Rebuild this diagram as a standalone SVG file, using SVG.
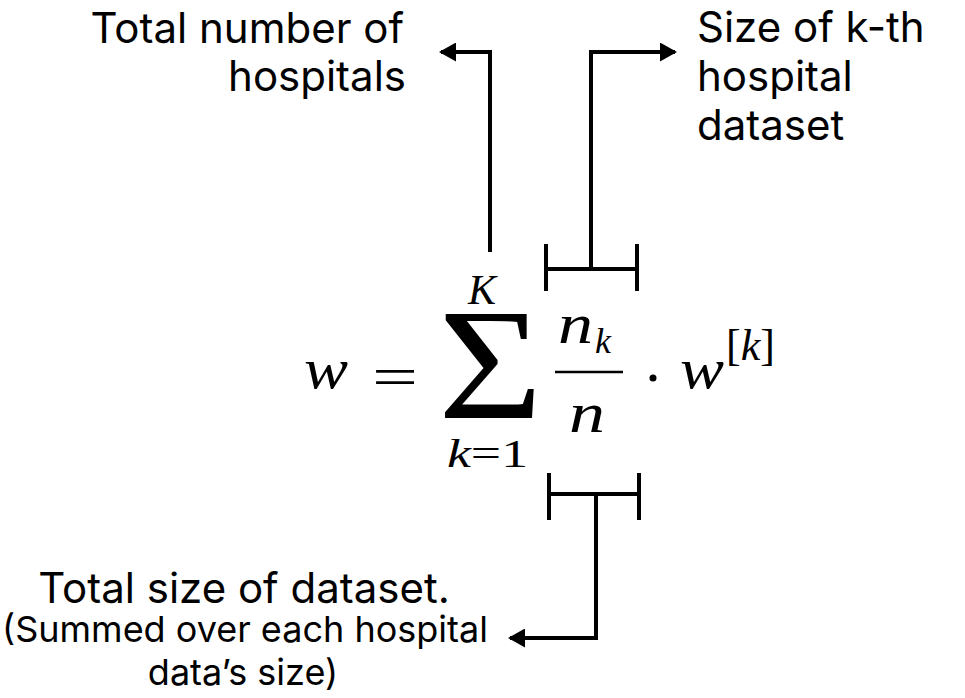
<svg xmlns="http://www.w3.org/2000/svg" width="965" height="698" viewBox="0 0 965 698">
<style>
.lbl{font-family:Inter,"Liberation Sans",sans-serif;fill:#000}
.m{font-family:"Liberation Serif","DejaVu Serif",serif;font-style:italic;fill:#000}
.r{font-family:"Liberation Serif","DejaVu Serif",serif;font-style:normal;fill:#000}
.ln{fill:none;stroke:#000;stroke-width:4}
</style>
<defs>
<marker id="ah" markerWidth="17" markerHeight="19" viewBox="0 0 17 19" refX="15" refY="9.5" orient="auto" markerUnits="userSpaceOnUse">
<path d="M0,0 L17,9.5 L0,19 z" fill="#000"/>
</marker>
</defs>
<rect width="965" height="698" fill="#fff"/>
<g id="label-total-hospitals">
<text class="lbl" font-size="42" text-anchor="end" x="404" y="43">Total number of</text>
<text class="lbl" font-size="42" text-anchor="end" x="406" y="91">hospitals</text>
</g>
<g id="label-kth-size">
<text class="lbl" font-size="42" x="697" y="42">Size of k-th</text>
<text class="lbl" font-size="42" x="697" y="91">hospital</text>
<text class="lbl" font-size="42" x="697" y="140">dataset</text>
</g>
<g id="label-total-size">
<text class="lbl" font-size="42" text-anchor="middle" x="244" y="603">Total size of dataset.</text>
<text class="lbl" font-size="36" text-anchor="middle" x="245" y="642">(Summed over each hospital</text>
<text class="lbl" font-size="36" text-anchor="middle" x="243" y="685">data’s size)</text>
</g>
<g id="formula">
<text class="m" font-size="58" x="304" y="388" textLength="44" lengthAdjust="spacingAndGlyphs">w</text>
<text class="r" font-size="58" x="372" y="396" textLength="46" lengthAdjust="spacingAndGlyphs">=</text>
<g transform="translate(438,418) scale(1.8,1.58)">
<text class="r" font-size="100" x="0" y="0">Σ</text>
</g>
<text class="m" font-size="42" x="468" y="304">K</text>
<text font-size="40" x="447" y="467" textLength="81" lengthAdjust="spacingAndGlyphs"><tspan class="m">k</tspan><tspan class="r">=1</tspan></text>
<text class="m" font-size="58" x="558" y="343" textLength="35" lengthAdjust="spacingAndGlyphs">n</text>
<text class="m" font-size="36" x="595" y="353">k</text>
<line x1="555" y1="372" x2="623" y2="372" stroke="#000" stroke-width="2.5"/>
<text class="m" font-size="58" x="569" y="432" textLength="36" lengthAdjust="spacingAndGlyphs">n</text>
<circle cx="653" cy="378" r="3.5" fill="#000"/>
<text class="m" font-size="58" x="680" y="388" textLength="44" lengthAdjust="spacingAndGlyphs">w</text>
<text font-size="44" x="726" y="360"><tspan class="r">[</tspan><tspan class="m">k</tspan><tspan class="r">]</tspan></text>
</g>
<g id="brackets">
<path class="ln" d="M546,244 V291 M637,244 V291 M546,269 H637"/>
<path class="ln" d="M549,473 V520 M639,473 V520 M549,494 H639"/>
</g>
<g id="connectors">
<path class="ln" d="M490,252 V52 H441" marker-end="url(#ah)"/>
<path class="ln" d="M591,269 V52 H675" marker-end="url(#ah)"/>
<path class="ln" d="M596,494 V638 H510" marker-end="url(#ah)"/>
</g>
</svg>
